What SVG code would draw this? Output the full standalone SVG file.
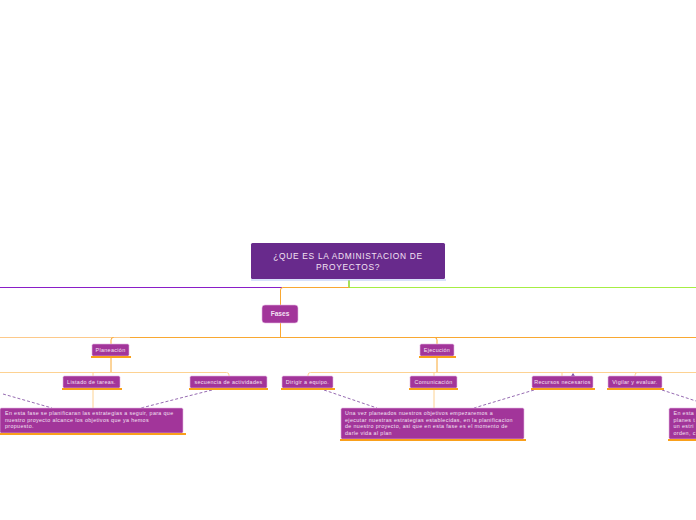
<svg xmlns="http://www.w3.org/2000/svg" width="696" height="520" viewBox="0 0 696 520">
<style>
.t{font-family:"Liberation Sans",Arial,sans-serif;fill:#f3e2f3}
.n{fill:#a2359a;stroke:#e6b6e2;stroke-width:0.6}
.ul{fill:#f9a01b}
.c{fill:none;stroke:#f9a832;stroke-width:1}
.cl{fill:none;stroke:#fdd292;stroke-width:1}
.d{fill:none;stroke:#8a5aa8;stroke-width:0.9;stroke-dasharray:3,2}
.s{font-size:5.4px;letter-spacing:0.33px}
.b{font-size:5.3px;letter-spacing:0.38px}
</style>
<rect width="696" height="520" fill="#ffffff"/>
<g id="connectors">
<line x1="0" y1="287.5" x2="282" y2="287.5" stroke="#8a1ec8" stroke-width="1.2"/>
<line x1="349" y1="287.5" x2="696" y2="287.5" stroke="#a6ee44" stroke-width="1.2"/>
<line x1="349" y1="280" x2="349" y2="287.5" stroke="#8cd622" stroke-width="1.5"/>
<path class="c" d="M349 287.5 H283 Q280.5 287.5 280.5 290 V305" stroke="#f09060"/>
<path class="c" d="M280.5 323 V337.5"/>
<line x1="0" y1="337.5" x2="130" y2="337.5" stroke="#fdc98a" stroke-width="1"/>
<line x1="130" y1="337.5" x2="696" y2="337.5" stroke="#f9a832" stroke-width="1"/>
<path class="c" d="M111 344 V340 Q111 337.5 113.5 337.5"/>
<path class="c" d="M437 344 V340 Q437 337.5 434.5 337.5"/>
<path class="c" d="M111 358 V372.5"/>
<path class="cl" d="M0 372.5 H226.5 Q229 372.5 229 375 V376"/>
<path class="cl" d="M93 372.5 V376"/>
<path class="c" d="M437 358 V372.5"/>
<path class="cl" d="M308 376 V375 Q308 372.5 310.5 372.5 H696"/>
<path class="cl" d="M434 372.5 V376"/>
<path class="cl" d="M562 372.5 V376"/>
<path class="cl" d="M635 376 V375 Q635 372.5 637.5 372.5"/>
<path class="cl" d="M93 390 V408"/>
<path class="cl" d="M434 390 V408"/>
<path class="d" d="M3 394 L52 408"/>
<path class="d" d="M212 390 L141 408"/>
<path class="d" d="M324 390 L377 408"/>
<path class="d" d="M534 390 L474 408"/>
<path class="d" d="M662 390 L696 401"/>
<path d="M570.5 377 L573 373 L575.5 377 Z" fill="#7a4aa0"/>
</g>
<g id="main">
<rect x="251" y="243" width="194" height="36" rx="1.5" fill="#682a8c"/>
<line x1="251" y1="280" x2="446" y2="280" stroke="#b2c4f6" stroke-width="1"/>
<text class="t" x="348" y="258.5" font-size="8.4" letter-spacing="0.7" text-anchor="middle" fill="#efe6f4">¿QUE ES LA ADMINISTACION DE</text>
<text class="t" x="348" y="269.5" font-size="8.4" letter-spacing="0.7" text-anchor="middle" fill="#efe6f4">PROYECTOS?</text>
</g>
<g id="fases">
<rect class="n" x="262" y="305" width="36" height="18" rx="3"/>
<text class="t" x="280" y="316.3" font-size="6.6" font-weight="bold" text-anchor="middle">Fases</text>
</g>
<g id="planeacion">
<rect class="n" x="92" y="344" width="37" height="12" rx="1.5"/>
<rect class="ul" x="91" y="356" width="40" height="2"/>
<text class="t s" x="110.5" y="352" text-anchor="middle">Planeación</text>
</g>
<g id="ejecucion">
<rect class="n" x="420" y="344" width="34" height="12" rx="1.5"/>
<rect class="ul" x="419" y="356" width="37" height="2"/>
<text class="t s" x="437" y="352" text-anchor="middle">Ejecución</text>
</g>
<g id="listado">
<rect class="n" x="63" y="376" width="57" height="12" rx="1.5"/>
<rect class="ul" x="62" y="388" width="60" height="2"/>
<text class="t s" x="91.5" y="384" text-anchor="middle">Listado de tareas.</text>
</g>
<g id="secuencia">
<rect class="n" x="190" y="376" width="77" height="12" rx="1.5"/>
<rect class="ul" x="189" y="388" width="79" height="2"/>
<text class="t s" x="228.5" y="384" text-anchor="middle">secuencia de actividades</text>
</g>
<g id="dirigir">
<rect class="n" x="282" y="376" width="51" height="12" rx="1.5"/>
<rect class="ul" x="281" y="388" width="54" height="2"/>
<text class="t s" x="307.5" y="384" text-anchor="middle">Dirigir a equipo.</text>
</g>
<g id="comunicacion">
<rect class="n" x="410" y="376" width="47" height="12" rx="1.5"/>
<rect class="ul" x="409" y="388" width="49" height="2"/>
<text class="t s" x="433.5" y="384" text-anchor="middle">Comunicación</text>
</g>
<g id="recursos">
<rect class="n" x="532" y="376" width="61" height="12" rx="1.5"/>
<rect class="ul" x="531" y="388" width="64" height="2"/>
<text class="t s" x="562.5" y="384" text-anchor="middle">Recursos necesarios</text>
</g>
<g id="vigilar">
<rect class="n" x="608" y="376" width="54" height="12" rx="1.5"/>
<rect class="ul" x="607" y="388" width="57" height="2"/>
<text class="t s" x="635" y="384" text-anchor="middle">Vigilar y evaluar.</text>
</g>
<g id="desc-planeacion">
<rect class="n" x="0" y="408" width="183" height="25" rx="1.5"/>
<rect class="ul" x="0" y="433" width="186" height="2"/>
<text class="t b" x="5" y="415">En esta fase se planificaran las estrategias a seguir, para que</text>
<text class="t b" x="5" y="421.5">nuestro proyecto alcance los objetivos que ya hemos</text>
<text class="t b" x="5" y="428">propuesto.</text>
</g>
<g id="desc-ejecucion">
<rect class="n" x="341" y="408" width="183" height="31" rx="1.5"/>
<rect class="ul" x="340" y="439" width="186" height="2"/>
<text class="t b" x="345" y="415">Una vez planeados nuestros objetivos empezaremos a</text>
<text class="t b" x="345" y="421.5">ejecutar nuestras estrategias establecidas, en la planificacion</text>
<text class="t b" x="345" y="428">de nuestro proyecto, asi que en esta fase es el momento de</text>
<text class="t b" x="345" y="434.5">darle vida al plan</text>
</g>
<g id="desc-vigilar">
<rect class="n" x="669" y="408" width="40" height="31" rx="1.5"/>
<rect class="ul" x="668" y="439" width="40" height="2"/>
<text class="t b" x="673.5" y="415">En esta</text>
<text class="t b" x="673.5" y="421.5">planes t</text>
<text class="t b" x="673.5" y="428">un estri</text>
<text class="t b" x="673.5" y="434.5">orden, c</text>
</g>
</svg>
